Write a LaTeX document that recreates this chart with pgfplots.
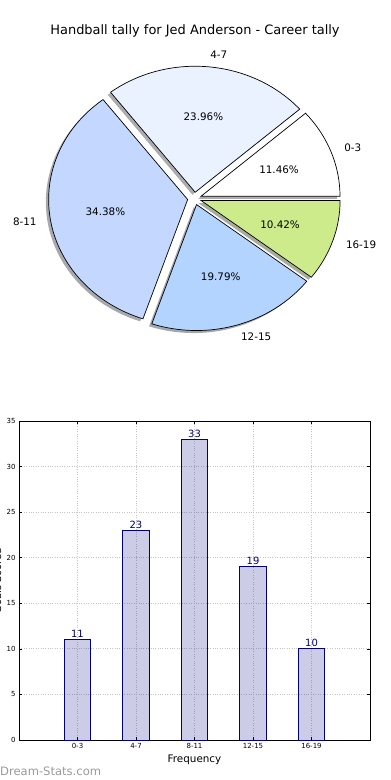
\documentclass[border=0pt]{standalone}
\usepackage{pgfplots}
\pgfplotsset{compat=1.18}
\usepackage{fontspec}
\setmainfont{DejaVu Sans}
\definecolor{pieA}{HTML}{FFFFFF}
\definecolor{pieB}{HTML}{EAF1FF}
\definecolor{pieC}{HTML}{C4D8FF}
\definecolor{pieD}{HTML}{B3D4FF}
\definecolor{pieE}{HTML}{CEEB8B}
\definecolor{navyc}{HTML}{000080}
\definecolor{wm}{HTML}{9A9A9A}
\newcommand\pielabfont{\fontsize{10.4}{12}\selectfont}
\begin{document}
\begin{tikzpicture}[x=1bp,y=1bp]
\useasboundingbox (0,0) rectangle (390,-780);
\clip (0,0) rectangle (390,-780);
\node[font=\fontsize{13}{15}\selectfont] at (195,-30.5) {Handball tally for Jed Anderson - Career tally};
% ---------------- pie ----------------
\begin{axis}[at={(194.5bp,-198.5bp)}, anchor=center, x=139bp, y=126bp,
  xmin=-1.6, xmax=1.6, ymin=-1.5, ymax=1.5, hide axis, clip=false]
\def\pielist{11/0-3/pieA/11.46, 23/4-7/pieB/23.96, 33/8-11/pieC/34.38, 19/12-15/pieD/19.79, 10/16-19/pieE/10.42}
\gdef\total{0}
\foreach \v/\lab/\col/\pct in \pielist {\pgfmathsetmacro\tsum{\total+\v}\xdef\total{\tsum}}
% shadows
\gdef\cum{0}
\foreach \v/\lab/\col/\pct in \pielist {
  \pgfmathsetmacro\aA{\cum/\total*360}
  \pgfmathsetmacro\aB{(\cum+\v)/\total*360}
  \pgfmathsetmacro\aM{(\aA+\aB)/2}
  \pgfmathsetmacro\cx{0.05*cos(\aM)-0.02}
  \pgfmathsetmacro\cy{0.05*sin(\aM)-0.02}
  \pgfmathsetmacro\px{\cx+cos(\aA)}
  \pgfmathsetmacro\py{\cy+sin(\aA)}
  \edef\tmp{\noexpand\fill[\col!30!black, opacity=0.45] (axis cs:\cx,\cy) -- (axis cs:\px,\py) arc[start angle=\aA, end angle=\aB, x radius=139bp, y radius=126bp] -- cycle;}
  \tmp
  \pgfmathsetmacro\nc{\cum+\v}\xdef\cum{\nc}
}
% wedges
\gdef\cum{0}
\foreach \v/\lab/\col/\pct in \pielist {
  \pgfmathsetmacro\aA{\cum/\total*360}
  \pgfmathsetmacro\aB{(\cum+\v)/\total*360}
  \pgfmathsetmacro\aM{(\aA+\aB)/2}
  \pgfmathsetmacro\cx{0.05*cos(\aM)}
  \pgfmathsetmacro\cy{0.05*sin(\aM)}
  \pgfmathsetmacro\px{\cx+cos(\aA)}
  \pgfmathsetmacro\py{\cy+sin(\aA)}
  \pgfmathsetmacro\lx{\cx+1.1*cos(\aM)}
  \pgfmathsetmacro\ly{\cy+1.1*sin(\aM)}
  \pgfmathsetmacro\qx{\cx+0.6*cos(\aM)}
  \pgfmathsetmacro\qy{\cy+0.6*sin(\aM)}
  \pgfmathtruncatemacro\isright{cos(\aM)>0}
  \ifnum\isright=1 \def\anc{west}\else\def\anc{east}\fi
  \edef\tmp{\noexpand\filldraw[fill=\col, draw=black, line width=0.7bp, line join=miter] (axis cs:\cx,\cy) -- (axis cs:\px,\py) arc[start angle=\aA, end angle=\aB, x radius=139bp, y radius=126bp] -- cycle;
    \noexpand\node[anchor=\anc, inner sep=0pt, font=\noexpand\pielabfont] at (axis cs:\lx,\ly) {\lab};
    \noexpand\node[inner sep=0pt, font=\noexpand\pielabfont] at (axis cs:\qx,\qy) {\pct\%};}
  \tmp
  \pgfmathsetmacro\nc{\cum+\v}\xdef\cum{\nc}
}
\end{axis}
% ---------------- bars ----------------
\begin{axis}[at={(19bp,-740bp)}, anchor=south west, scale only axis,
  width=351bp, height=319bp,
  xmin=-1, xmax=5, ymin=0, ymax=35,
  xtick={0,1,2,3,4}, xticklabels={0-3,4-7,8-11,12-15,16-19},
  ytick={0,5,...,35},
  grid=major, major grid style={dotted, gray!45, line width=0.8bp},
  tick align=inside, major tick length=3bp,
  tick style={black, line width=0.5bp},
  axis line style={black, line width=0.8bp},
  ticklabel style={font=\fontsize{7}{8}\selectfont},
  /pgf/number format/assume math mode=true,
  xlabel={Frequency},
  xlabel style={font=\fontsize{10.4}{12}\selectfont, inner sep=1bp, yshift=-2bp},
  ]
\addplot[ybar, bar width=0.45, fill=navyc, fill opacity=0.2, draw=navyc, line width=0.8bp,
  nodes near coords, nodes near coords style={font=\fontsize{10}{12}\selectfont, text=navyc, text opacity=1, inner sep=1.5bp, anchor=south}]
  coordinates {(0,11) (1,23) (2,33) (3,19) (4,10)};
\end{axis}
\node[rotate=90, anchor=base, font=\fontsize{10}{12}\selectfont] at (1.2,-581) {Goals Scored};
\node[anchor=south west, inner sep=0pt, text=wm, font=\fontsize{11.6}{13}\selectfont] at (0,-776) {Dream-Stats.com};
\end{tikzpicture}
\end{document}
